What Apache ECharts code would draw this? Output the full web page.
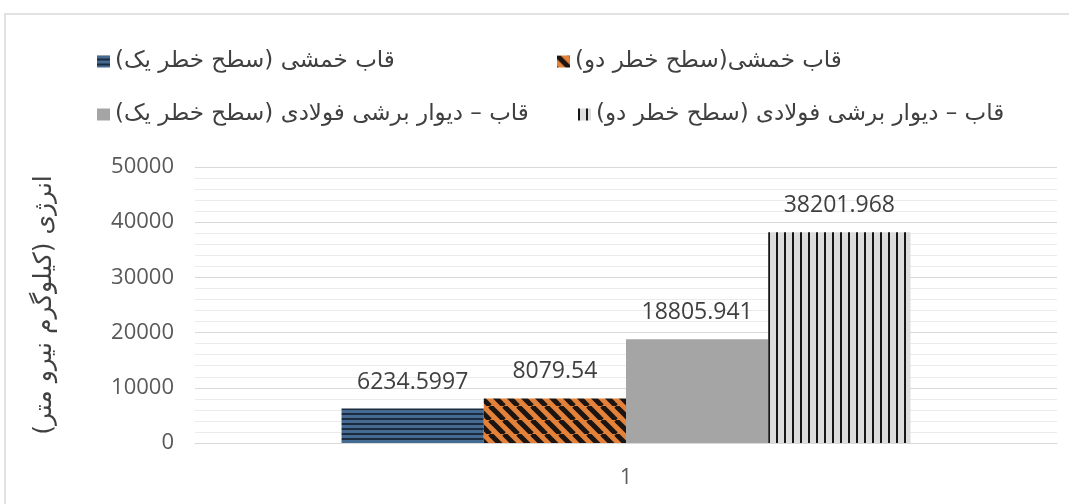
<!DOCTYPE html>
<html>
<head>
<meta charset="utf-8">
<script src="https://cdn.jsdelivr.net/npm/echarts@6/dist/echarts.min.js"></script>
<style>
  html, body { margin: 0; padding: 0; background: #ffffff; }
  #chart { width: 1069px; height: 504px; }
</style>
</head>
<body>
<div id="chart"></div>
<script>
// Energy per structural system and hazard level (single category "1")
const categories = ['1'];
const seriesNames = [
  'قاب خمشی (سطح خطر یک)',
  'قاب خمشی(سطح خطر دو)',
  'قاب – دیوار برشی فولادی (سطح خطر یک)',
  'قاب – دیوار برشی فولادی (سطح خطر دو)'
];
const momentFrameLevel1 = [6234.5997];
const momentFrameLevel2 = [8079.54];
const shearWallLevel1 = [18805.941];
const shearWallLevel2 = [38201.968];
const yAxisTitle = 'انرژی (کیلوگرم نیرو متر)';

// keep Persian strings in a right-to-left run inside the canvas
const rtl = s => '\u200F' + s + '\u200F';

function tile(w, h, draw) {
  const c = document.createElement('canvas');
  c.width = w; c.height = h;
  draw(c.getContext('2d'), w, h);
  return c;
}

// horizontal blue stripes
const blueStripes = tile(8, 5, (g, w, h) => {
  g.fillStyle = '#1b2b40'; g.fillRect(0, 0, w, h);
  g.fillStyle = '#456b93'; g.fillRect(0, 0, w, 3);
});
// orange / black diagonal stripes
const orangeDiag = tile(14, 14, (g, s) => {
  g.fillStyle = '#e5823a'; g.fillRect(0, 0, s, s);
  g.strokeStyle = '#1b1410'; g.lineWidth = 5;
  for (const k of [-s, 0, s]) {
    g.beginPath(); g.moveTo(k, 0); g.lineTo(k + s, s); g.stroke();
  }
});
// black vertical lines on light grey
const verticalLines = tile(8, 8, (g, w, h) => {
  g.fillStyle = '#dcdcdc'; g.fillRect(0, 0, w, h);
  g.fillStyle = '#161616'; g.fillRect(0, 0, 2, h);
});

const fills = [
  { image: blueStripes, repeat: 'repeat' },
  { image: orangeDiag, repeat: 'repeat' },
  '#a5a5a5',
  { image: verticalLines, repeat: 'repeat' }
];
const values = [momentFrameLevel1, momentFrameLevel2, shearWallLevel1, shearWallLevel2];

const chart = echarts.init(document.getElementById('chart'), null, { renderer: 'canvas' });

const legendPos = [
  { left: 97, top: 50 },
  { left: 557, top: 50 },
  { left: 97, top: 103 },
  { left: 578, top: 103 }
];

const numFont = '"Open Sans", sans-serif';
const persianFont = '"DejaVu Sans", sans-serif';

const option = {
  backgroundColor: '#ffffff',
  animation: false,
  graphic: [{
    type: 'rect',
    shape: { x: 5, y: 14, width: 1200, height: 700 },
    style: { fill: 'none', stroke: '#d9d9d9', lineWidth: 1.5 },
    silent: true
  }],
  legend: legendPos.map((p, i) => ({
    left: p.left, top: p.top, padding: 0,
    data: [rtl(seriesNames[i])],
    itemWidth: 13, itemHeight: 12, itemGap: 10,
    icon: 'rect',
    textStyle: { fontFamily: persianFont, fontSize: 23, color: '#404040' },
    selectedMode: false
  })),
  grid: { left: 195, right: 12, top: 167, bottom: 61 },
  xAxis: {
    type: 'category',
    data: categories,
    axisLine: { lineStyle: { color: '#d9d9d9' } },
    axisTick: { show: false },
    axisLabel: { color: '#595959', fontSize: 21, fontFamily: numFont, margin: 25 }
  },
  yAxis: {
    type: 'value',
    min: 0, max: 50000, interval: 10000,
    name: rtl(yAxisTitle),
    nameLocation: 'middle',
    nameRotate: 90,
    nameGap: 138,
    nameTextStyle: { fontFamily: persianFont, fontSize: 25, color: '#404040' },
    axisLine: { show: false },
    axisTick: { show: false },
    axisLabel: {
      color: '#595959', fontSize: 22, fontFamily: numFont, margin: 21,
      formatter: v => String(v)
    },
    splitLine: { lineStyle: { color: '#d9d9d9', width: 1 } },
    minorTick: { show: false, splitNumber: 5 },
    minorSplitLine: { show: true, lineStyle: { color: '#ebebeb', width: 1 } }
  },
  series: seriesNames.map((n, i) => ({
    name: rtl(n),
    type: 'bar',
    data: values[i],
    barGap: '0%',
    barCategoryGap: '34%',
    itemStyle: { color: fills[i] },
    label: {
      show: true, position: 'top', distance: 15,
      color: '#404040', fontSize: 23, fontFamily: numFont,
      formatter: p => String(values[i][p.dataIndex])
    }
  }))
};

chart.setOption(option);
</script>
</body>
</html>
